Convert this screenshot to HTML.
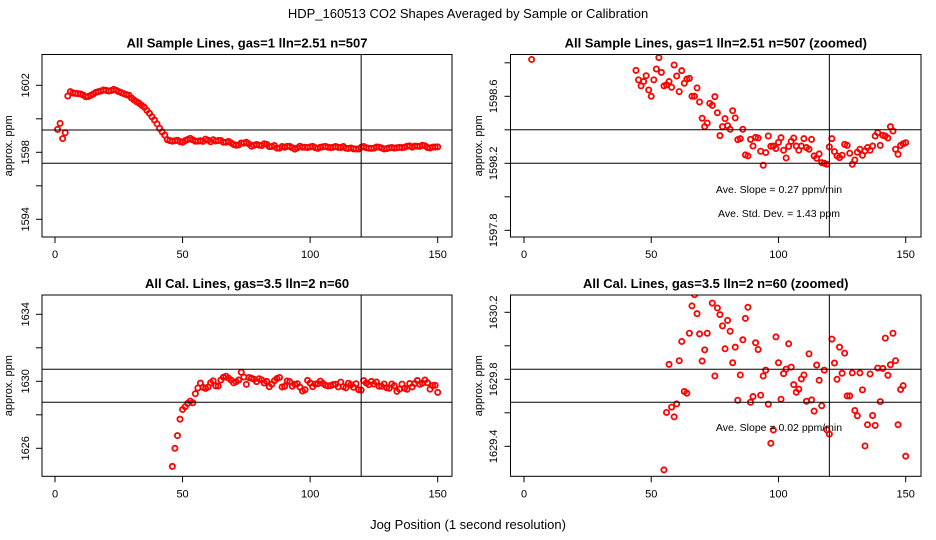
<!DOCTYPE html>
<html><head><meta charset="utf-8"><style>
html,body{margin:0;padding:0;background:#fff;width:936px;height:540px;overflow:hidden;}
svg{display:block;font-family:"Liberation Sans",Arial,sans-serif;}
</style></head><body>
<svg id="chart" width="936" height="540" viewBox="0 0 936 540" xmlns="http://www.w3.org/2000/svg">
<rect x="0" y="0" width="936" height="540" fill="#fff"/>
<text x="468" y="18" font-size="13" text-anchor="middle">HDP_160513  CO2 Shapes Averaged by Sample or Calibration</text>
<text x="468" y="529" font-size="13" text-anchor="middle">Jog Position (1 second resolution)</text>
<g id="panels"></g>
</svg>
<script>
// ---- data ----
const sampleX = [];
for (let i = 1; i <= 150; i++) sampleX.push(i);
const sampleY = [
1599.37,1599.73,1598.82,1599.17,1601.36,1601.62,1601.55,1601.52,1601.5,1601.48,
1601.42,1601.32,1601.33,1601.4,1601.48,1601.58,1601.62,1601.66,1601.72,1601.7,
1601.66,1601.68,1601.76,1601.7,1601.62,1601.56,1601.5,1601.44,1601.4,1601.24,
1601.12,1601.02,1600.93,1600.8,1600.69,1600.5,1600.33,1600.12,1599.93,1599.7,
1599.43,1599.22,1599.03,1598.755,1598.698,1598.662,1598.688,1598.723,1598.638,1598.6,
1598.698,1598.763,1598.831,1598.743,1598.662,1598.668,1598.688,1598.654,1598.787,1598.721,
1598.628,1598.753,1598.678,1598.703,1598.707,1598.6,1598.6,1598.65,1598.566,1598.469,
1598.419,1598.44,1598.558,1598.546,1598.598,1598.502,1598.365,1598.419,1598.467,1598.425,
1598.403,1598.514,1598.471,1598.341,1598.347,1598.403,1598.25,1598.244,1598.343,1598.303,
1598.355,1598.351,1598.272,1598.188,1598.264,1598.363,1598.302,1598.303,1598.288,1598.325,
1598.353,1598.278,1598.232,1598.301,1598.331,1598.351,1598.303,1598.278,1598.303,1598.347,
1598.294,1598.284,1598.343,1598.244,1598.23,1598.256,1598.204,1598.2,1598.194,1598.298,
1598.347,1598.27,1598.244,1598.234,1598.248,1598.313,1598.307,1598.26,1598.194,1598.22,
1598.266,1598.284,1598.248,1598.274,1598.294,1598.278,1598.303,1598.363,1598.383,1598.307,
1598.367,1598.363,1598.351,1598.419,1598.393,1598.284,1598.254,1598.307,1598.317,1598.323];
const calX = [];
for (let i = 46; i <= 150; i++) calX.push(i);
const calY = [
1624.92,1626.0,1626.76,1627.74,1628.32,1628.48,1628.68,1628.82,1628.72,
1629.259,1629.602,1629.889,1629.634,1629.576,1629.653,1629.911,1630.026,1629.727,1629.717,
1630.075,1630.238,1630.305,1630.192,1630.071,1629.909,1629.976,1630.075,1630.54,1630.255,
1629.82,1630.226,1630.186,1630.119,1629.982,1630.152,1630.087,1629.899,1629.992,1629.675,
1629.826,1630.036,1630.164,1630.23,1629.663,1629.697,1630.018,1629.978,1629.705,1629.82,
1629.855,1629.651,1629.418,1629.497,1630.053,1629.899,1629.681,1629.834,1629.861,1630.012,
1629.873,1629.768,1629.723,1629.741,1629.802,1629.826,1629.669,1629.952,1629.677,1629.61,
1629.885,1629.794,1629.642,1629.855,1629.499,1629.473,1630.04,1629.897,1629.8,1629.992,
1629.836,1629.956,1629.701,1629.701,1629.838,1629.614,1629.582,1629.838,1629.737,1629.402,
1629.529,1629.832,1629.584,1629.525,1629.867,1629.667,1629.865,1630.046,1629.824,1629.887,
1630.075,1629.911,1629.529,1629.739,1629.762,1629.341];
const xTicks = [0, 50, 100, 150];
const tlYTicks = [1594, 1596, 1598, 1600, 1602];
const tlYLabels = ["1594", "", "1598", "", "1602"];
const trYTicks = [1597.8, 1598.0, 1598.2, 1598.4, 1598.6, 1598.8];
const trYLabels = ["1597.8", "", "1598.2", "", "1598.6", ""];
const blYTicks = [1626, 1628, 1630, 1632, 1634];
const blYLabels = ["1626", "", "1630", "", "1634"];
const brYTicks = [1629.4, 1629.6, 1629.8, 1630.0, 1630.2];
const brYLabels = ["1629.4", "", "1629.8", "", "1630.2"];
const tlHLines = [1599.33, 1597.35];
const trHLines = [1598.4, 1598.2];
const blHLines = [1630.72, 1628.75];
const brHLines = [1629.86, 1629.663];
const vLineX = 120;

const NS = "http://www.w3.org/2000/svg";
function mk(tag, attrs, parent) {
  const e = document.createElementNS(NS, tag);
  for (const k in attrs) e.setAttribute(k, attrs[k]);
  parent.appendChild(e);
  return e;
}
const root = document.getElementById("panels");

const panels = [
  {id:"top-left", title:"All Sample Lines, gas=1 lln=2.51 n=507", bx0:42, bx1:452, by0:54.5, by1:237, xa:55, xb:437.7, yRef:1598, yPix:152.3, yScale:16.75, xs:sampleX, ys:sampleY, yt:tlYTicks, yl:tlYLabels, hl:tlHLines, yLab:8, tLab:25, notes:[]},
  {id:"top-right", title:"All Sample Lines, gas=1 lln=2.51 n=507 (zoomed)", bx0:510.5, bx1:921, by0:54.5, by1:237, xa:524, xb:905.7, yRef:1598.2, yPix:163.3, yScale:167.5, xs:sampleX, ys:sampleY, yt:trYTicks, yl:trYLabels, hl:trHLines, yLab:478, tLab:493, notes:[["Ave. Slope =  0.27  ppm/min",193],["Ave. Std. Dev. =  1.43  ppm",217]]},
  {id:"bottom-left", title:"All Cal. Lines, gas=3.5 lln=2 n=60", bx0:42, bx1:452, by0:295, by1:476.3, xa:55, xb:437.7, yRef:1630, yPix:381.3, yScale:16.75, xs:calX, ys:calY, yt:blYTicks, yl:blYLabels, hl:blHLines, yLab:8, tLab:25, notes:[]},
  {id:"bottom-right", title:"All Cal. Lines, gas=3.5 lln=2 n=60 (zoomed)", bx0:510.5, bx1:921, by0:295, by1:476.3, xa:524, xb:905.7, yRef:1629.8, yPix:379.3, yScale:167.5, xs:calX, ys:calY, yt:brYTicks, yl:brYLabels, hl:brHLines, yLab:478, tLab:493, notes:[["Ave. Slope =  0.02  ppm/min",431]]}
];

panels.forEach(p => {
  const X = v => p.xa + (v - 0) * (p.xb - p.xa) / 150;
  const Y = v => p.yPix - (v - p.yRef) * p.yScale;
  const g = mk("g", {}, root);
  
  
  const cid = "clip-" + p.id;
  const cp = mk("clipPath", {id: cid}, g);
  mk("rect", {x: p.bx0, y: p.by0, width: p.bx1 - p.bx0, height: p.by1 - p.by0}, cp);
  const cx = (p.bx0 + p.bx1) / 2;
  const t = mk("text", {x: cx, y: p.by0 - 7, "font-size": 13, "font-weight": "bold", "text-anchor": "middle"}, g);
  
  
  t.textContent = p.title;
  const yl = mk("text", {x: p.yLab + 4, y: (p.by0 + p.by1) / 2, "font-size": 11, "text-anchor": "middle", transform: "rotate(-90 " + (p.yLab + 4) + " " + ((p.by0 + p.by1) / 2) + ")"}, g);
  
  
  yl.textContent = "approx. ppm";
  const pg = mk("g", {"clip-path": "url(#" + cid + ")"}, g);
  p.xs.forEach((xv, i) => {
    const c = mk("circle", {cx: X(xv).toFixed(2), cy: Y(p.ys[i]).toFixed(2), r: 2.6, fill: "none", stroke: "#ff0000", "stroke-width": 1.8}, pg);
    
    
  });
  p.hl.forEach(v => {
    const l = mk("line", {x1: p.bx0, x2: p.bx1, y1: Y(v), y2: Y(v), stroke: "#000", "stroke-width": 1}, g);
    
    
  });
  const vl = mk("line", {x1: X(vLineX), x2: X(vLineX), y1: p.by0, y2: p.by1, stroke: "#000", "stroke-width": 1}, g);
  
  
  const b = mk("rect", {x: p.bx0, y: p.by0, width: p.bx1 - p.bx0, height: p.by1 - p.by0, fill: "none", stroke: "#000", "stroke-width": 1}, g);
  
  
  xTicks.forEach(v => {
    mk("line", {x1: X(v), x2: X(v), y1: p.by1, y2: p.by1 + 6, stroke: "#000"}, g);
    const tx = mk("text", {x: X(v), y: p.by1 + 21, "font-size": 11, "text-anchor": "middle"}, g);
    
    
    tx.textContent = v;
  });
  p.yt.forEach((v, i) => {
    const yy = Y(v);
    mk("line", {x1: p.bx0 - 6, x2: p.bx0, y1: yy, y2: yy, stroke: "#000"}, g);
    if (p.yl[i]) {
      const ty = mk("text", {x: p.tLab + 4, y: yy, "font-size": 11, "text-anchor": "middle", transform: "rotate(-90 " + (p.tLab + 4) + " " + yy + ")"}, g);
      
      
      ty.textContent = p.yl[i];
    }
  });
  p.notes.forEach(n => {
    const nt = mk("text", {x: 779, y: n[1], "font-size": 10.5, "text-anchor": "middle"}, g);
    
    
    nt.textContent = n[0];
  });
});
</script>
</body></html>
